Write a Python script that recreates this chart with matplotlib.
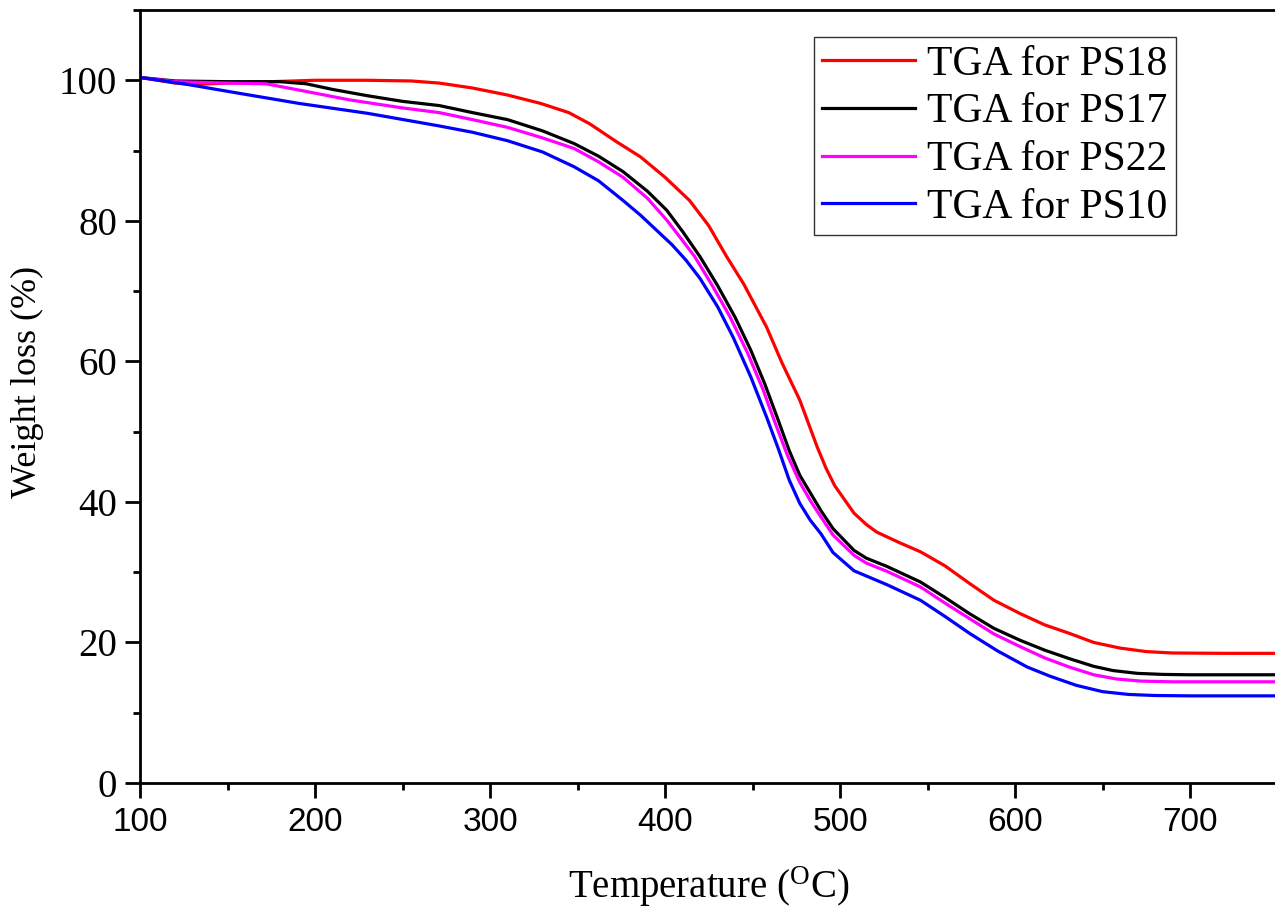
import matplotlib
matplotlib.use("Agg")
import matplotlib.pyplot as plt
from matplotlib.ticker import MultipleLocator

# ---- data ----
t_ps18 = [100, 110, 120, 130, 150, 175, 200, 230, 255, 271, 290, 310, 329, 345, 357, 372, 386, 400, 414, 425, 435, 445, 458, 467, 477, 487, 492, 497, 508, 515, 521, 534, 546, 560, 574, 588, 603, 617, 631, 645, 660, 675, 690, 720, 750]
w_ps18 = [100.4, 100.0, 99.6, 99.4, 99.6, 99.8, 100.0, 100.0, 99.9, 99.6, 98.9, 97.9, 96.7, 95.4, 93.8, 91.3, 89.1, 86.2, 82.9, 79.3, 75.0, 71.0, 64.9, 59.7, 54.5, 47.8, 44.8, 42.3, 38.4, 36.8, 35.7, 34.2, 32.9, 30.9, 28.4, 26.0, 24.1, 22.5, 21.3, 20.0, 19.2, 18.7, 18.5, 18.45, 18.45]

t_ps17 = [100, 120, 150, 180, 195, 210, 230, 250, 271, 290, 310, 330, 348, 362, 376, 390, 401, 410, 420, 430, 440, 449, 457, 464, 471, 477, 483, 489, 496, 508, 515, 527, 546, 560, 574, 588, 603, 617, 631, 645, 656, 670, 685, 700, 750]
w_ps17 = [100.4, 99.9, 99.8, 99.8, 99.5, 98.7, 97.8, 97.0, 96.4, 95.4, 94.4, 92.8, 91.0, 89.2, 87.0, 84.2, 81.5, 78.5, 74.9, 70.8, 66.3, 61.6, 56.8, 52.1, 47.3, 43.8, 41.3, 38.8, 36.2, 33.1, 32.0, 30.8, 28.6, 26.4, 24.1, 22.0, 20.3, 18.9, 17.7, 16.6, 16.0, 15.6, 15.45, 15.4, 15.4]

t_ps22 = [100, 120, 150, 172, 191, 220, 249, 271, 290, 310, 330, 348, 362, 376, 390, 401, 410, 417, 427, 437, 447, 456, 463, 470, 477, 483, 489, 496, 508, 515, 527, 546, 560, 574, 588, 603, 617, 631, 645, 658, 672, 690, 750]
w_ps22 = [100.4, 99.8, 99.6, 99.5, 98.6, 97.2, 96.1, 95.4, 94.4, 93.3, 91.8, 90.3, 88.4, 86.2, 83.2, 80.1, 77.2, 74.9, 70.8, 66.4, 61.3, 56.0, 51.2, 46.6, 42.8, 40.2, 37.9, 35.3, 32.4, 31.3, 30.1, 27.9, 25.6, 23.4, 21.2, 19.4, 17.8, 16.5, 15.4, 14.8, 14.5, 14.4, 14.4]

t_ps10 = [100, 125, 153, 191, 230, 271, 290, 310, 330, 348, 362, 376, 386, 395, 404, 412, 420, 430, 439, 449, 458, 465, 471, 477, 483, 489, 496, 508, 527, 546, 560, 574, 590, 607, 620, 635, 650, 665, 680, 700, 750]
w_ps10 = [100.4, 99.5, 98.3, 96.7, 95.3, 93.5, 92.6, 91.4, 89.8, 87.7, 85.7, 82.9, 80.8, 78.7, 76.6, 74.4, 71.8, 67.8, 63.4, 57.8, 52.1, 47.4, 43.1, 39.8, 37.4, 35.5, 32.8, 30.2, 28.2, 26.0, 23.7, 21.3, 18.8, 16.5, 15.2, 13.9, 13.0, 12.6, 12.45, 12.4, 12.4]

labels = ["TGA for PS18", "TGA for PS17", "TGA for PS22", "TGA for PS10"]
colors = ["#FF0000", "#000000", "#FF00FF", "#0000FF"]

serif = "Liberation Serif"
sans = "Liberation Sans"
plt.rcParams["mathtext.fontset"] = "custom"
plt.rcParams["mathtext.rm"] = serif

W, H = 1275, 913
fig = plt.figure(figsize=(W / 100, H / 100), dpi=100)
x0, x1 = 140, 1277.5
y0, y1 = 783, 10
ax = fig.add_axes([x0 / W, 1 - y0 / H, (x1 - x0) / W, (y0 - y1) / H])

series = [(t_ps18, w_ps18), (t_ps17, w_ps17), (t_ps22, w_ps22), (t_ps10, w_ps10)]
for (t, w), lab, c in zip(series, labels, colors):
    ax.plot(t, w, color=c, lw=2.3, label=lab, solid_joinstyle="round")

ax.set_xlim(100, 750)
ax.set_ylim(0, 110)
ax.xaxis.set_major_locator(MultipleLocator(100))
ax.xaxis.set_minor_locator(MultipleLocator(50))
ax.yaxis.set_major_locator(MultipleLocator(20))
ax.yaxis.set_minor_locator(MultipleLocator(10))

for s in ["left", "bottom", "top"]:
    ax.spines[s].set_linewidth(2.0)
ax.spines["right"].set_visible(False)

ax.tick_params(which="major", direction="out", length=10.5, width=2.0)
ax.tick_params(which="minor", direction="out", length=5, width=2.0)
ax.tick_params(axis="x", which="major", pad=7)
ax.tick_params(axis="y", which="major", pad=6)

for lbl in ax.get_yticklabels():
    lbl.set_fontfamily(serif)
    lbl.set_fontsize(28)
for lbl in ax.get_xticklabels():
    lbl.set_fontfamily(sans)
    lbl.set_fontsize(24)

ax.set_xlabel(r"Temperature ($\mathregular{^{O}}$C)", fontfamily=serif, fontsize=28)
ax.xaxis.set_label_coords(0.5, -(864 - 783) / (y0 - y1))
ax.set_ylabel("Weight loss (%)", fontfamily=serif, fontsize=26)
ax.yaxis.set_label_coords((44 - x0) / (x1 - x0), (783 - 382) / (y0 - y1))

leg = ax.legend(loc="upper right", bbox_to_anchor=(1176 / W, 1 - 37 / H),
                bbox_transform=fig.transFigure,
                prop={"family": serif, "size": 30}, frameon=True, fancybox=False,
                handlelength=2.23, handletextpad=0.3, labelspacing=0.22,
                borderpad=0.2, borderaxespad=0)
leg.get_frame().set_edgecolor("black")
leg.get_frame().set_linewidth(1.0)
for ln in leg.get_lines():
    ln.set_linewidth(2.3)

fig.savefig("out.png", dpi=100)
